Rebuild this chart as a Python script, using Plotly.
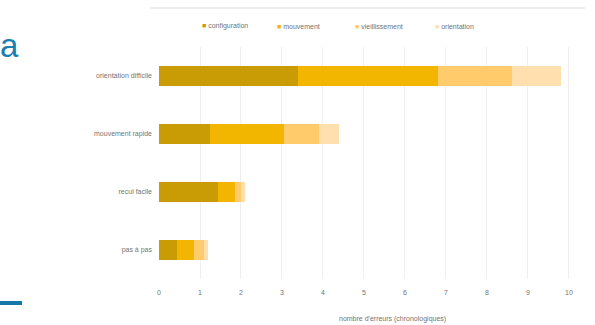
import plotly.graph_objects as go

categories = ["orientation difficile", "mouvement rapide", "recul facile", "pas à pas"]
series_names = ["configuration", "mouvement", "vieillissement", "orientation"]
configuration = [3.4, 1.25, 1.45, 0.45]
mouvement = [3.4, 1.8, 0.4, 0.4]
vieillissement = [1.8, 0.85, 0.15, 0.25]
orientation = [1.2, 0.5, 0.1, 0.1]
x_ticks = list(range(0, 11))

colors = ["#C99C06", "#F2B600", "#FFCB6B", "#FFDFAE"]
values = [configuration, mouvement, vieillissement, orientation]

L, R, T, B = 159, 571, 47, 279
PW, PH = R - L, B - T
TXT = "#747474"


def px(x):
    return (x - L) / PW


def py(y):
    return (B - y) / PH


fig = go.Figure()
for name, vals, col in zip(series_names, values, colors):
    fig.add_trace(go.Bar(
        y=categories, x=vals, name=name, orientation="h",
        marker=dict(color=col, line=dict(width=0)),
    ))

fig.update_layout(
    width=595, height=325,
    barmode="stack", bargap=0.67,
    margin=dict(l=L, r=595 - R, t=T, b=325 - B, autoexpand=False),
    paper_bgcolor="white", plot_bgcolor="white",
    font=dict(family="Liberation Sans, Arial, sans-serif", size=7, color=TXT),
    showlegend=False,
    xaxis=dict(range=[0, 10.05], tickvals=x_ticks, showgrid=True, gridcolor="#efefef",
               gridwidth=1, zeroline=False, showline=False, ticks="outside",
               ticklen=7, tickcolor="rgba(0,0,0,0)",
               tickfont=dict(size=7, color=TXT)),
    yaxis=dict(categoryorder="array", categoryarray=categories, autorange="reversed",
               showgrid=False, showline=False, ticks="", ticklabelstandoff=6,
               tickfont=dict(size=7, color=TXT)),
)

# custom compact legend
legend_x = [200, 275, 353, 433]
for name, col, lx in zip(series_names, colors, legend_x):
    fig.add_annotation(text=f"<span style='color:{col}'>■</span> {name}",
                       xref="paper", yref="paper", x=px(lx), y=py(26),
                       xanchor="left", yanchor="middle", showarrow=False,
                       font=dict(size=7, color=TXT))

fig.add_annotation(text="nombre d'erreurs (chronologiques)", xref="paper", yref="paper",
                   x=px(392), y=py(319), showarrow=False, xanchor="center",
                   yanchor="middle", font=dict(size=7, color=TXT))
fig.add_annotation(text="a", xref="paper", yref="paper", x=px(-2), y=py(46),
                   xanchor="left", yanchor="middle", showarrow=False,
                   font=dict(size=33, color="#1B7DB0", family="Liberation Sans, Arial"))
fig.add_shape(type="line", xref="paper", yref="paper", x0=px(0), x1=px(22),
              y0=py(303), y1=py(303), line=dict(color="#1479A8", width=4))
fig.add_shape(type="line", xref="paper", yref="paper", x0=px(150), x1=px(585),
              y0=py(8), y1=py(8), line=dict(color="#dddddd", width=1))

fig.write_html("out.html")
